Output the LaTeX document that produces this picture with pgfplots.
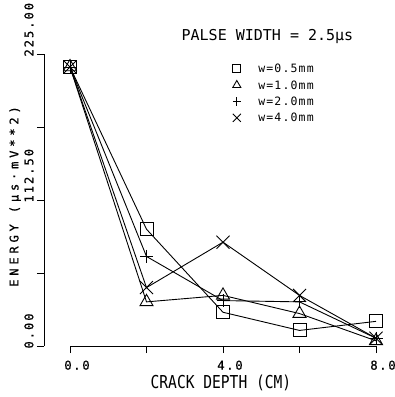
\documentclass[border=0pt]{standalone}
\usepackage{fontspec}
\setmainfont{DejaVu Sans Mono}
\newfontfamily\ylabfont[LetterSpace=32,FakeBold=0.8]{DejaVu Sans Mono}
\newfontfamily\ytickfont[LetterSpace=17,FakeBold=0.8]{DejaVu Sans Mono}
\newfontfamily\xtickfont[LetterSpace=13,FakeBold=0.5]{DejaVu Sans Mono}
\newfontfamily\xlabfont[FakeStretch=0.82]{DejaVu Sans Mono}
\newfontfamily\legfont[LetterSpace=10]{DejaVu Sans Mono}
\usepackage{pgfplots}
\pgfplotsset{compat=1.18}
\begin{document}
\begin{tikzpicture}
\path[use as bounding box] (0,0) rectangle (395pt,-397pt);
\begin{axis}[
  at={(44pt,-346pt)}, anchor=south west,
  scale only axis, width=332pt, height=292pt,
  xmin=-0.68, xmax=8, ymin=0, ymax=225,
  axis x line*=bottom, axis y line*=left,
  x axis line style={draw=none},
  y axis line style={line width=1pt},
  tick align=outside, major tick length=7pt,
  tick style={black, line width=1pt},
  xtick={0,2,4,6,8}, xticklabels={0.0,,4.0,,8.0},
  ytick={0,56.25,112.5,168.75,225}, yticklabels={0.00,,112.50,,225.00},
  xticklabel style={font=\xtickfont\fontsize{12.3}{12.3}\selectfont, xshift=7pt, yshift=-4pt},
  yticklabel style={font=\ytickfont\fontsize{12}{12}\selectfont, rotate=90, anchor=south west, xshift=-6pt},
  xlabel={CRACK DEPTH (CM)},
  xlabel style={at={(axis description cs:0.533,-0.127)}, anchor=center, font=\xlabfont\fontsize{17.8}{17.8}\selectfont},
  ylabel={ENERGY (μs·mV**2)},
  ylabel style={at={(axis description cs:-0.087,0.512)}, anchor=center, font=\ylabfont\fontsize{12}{12}\selectfont},
  title={PALSE WIDTH = 2.5μs},
  title style={at={(axis description cs:0.673,1.041)}, anchor=center, font=\fontsize{15}{15}\selectfont},
  clip=false,
  legend style={draw=none, fill=none, at={(axis description cs:0.568,0.966)}, anchor=north west, inner sep=0pt, column sep=17.5pt, row sep=8.3pt, nodes={inner sep=0pt, text height=8pt, text depth=0pt, font=\legfont\fontsize{11.5}{11.5}\selectfont}},
  legend cell align=left,
  legend image code/.code={\draw[#1, only marks, every mark/.append style={scale=0.62}] plot coordinates {(0pt,0pt)};},
]
\addplot[black, line width=0.9pt, mark=square, mark size=6.5pt, mark options={solid, rounded corners=2pt}] coordinates {(0,215) (2,90) (4,26) (6,12) (8,19)};
\addplot[black, line width=0.9pt, mark=triangle, mark size=7.5pt] coordinates {(0,215) (2,34) (4,39) (6,25) (8,4)};
\addplot[black, line width=0.9pt, mark=+, mark size=6.5pt] coordinates {(0,215) (2,69) (4,35) (6,34) (8,6)};
\addplot[black, line width=0.9pt, mark=x, mark size=9.2pt] coordinates {(0,215) (2,45) (4,80) (6,39) (8,6)};
\legend{w=0.5mm, w=1.0mm, w=2.0mm, w=4.0mm}
\draw[line width=1pt] (axis cs:0,0) -- (axis cs:8,0);
\end{axis}
\end{tikzpicture}
\end{document}
